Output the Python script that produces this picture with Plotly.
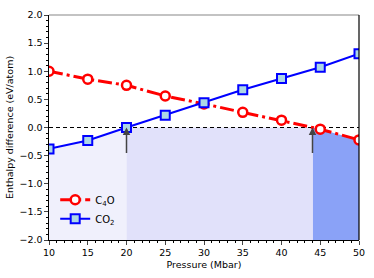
import plotly.graph_objects as go

pressure = [10, 15, 20, 25, 30, 35, 40, 45, 50]
c4o = [1.00, 0.86, 0.75, 0.56, 0.42, 0.27, 0.13, -0.03, -0.22]
co2 = [-0.38, -0.23, 0.00, 0.22, 0.44, 0.67, 0.87, 1.07, 1.31]
x_ticks = [10, 15, 20, 25, 30, 35, 40, 45, 50]
y_ticks = [-2.0, -1.5, -1.0, -0.5, 0.0, 0.5, 1.0, 1.5, 2.0]
arrow_x = [20, 44]

YMIN, YMAX = -2.0, 2.0
# crossing of C4O with zero
xc = 40 + 5 * c4o[6] / (c4o[6] - c4o[7])

fig = go.Figure()

# shaded regions (lower envelope)
fig.add_trace(go.Scatter(
    x=pressure[0:3] + [20, 10], y=co2[0:3] + [YMIN, YMIN],
    fill="toself", fillcolor="#f0f0fc", line=dict(width=0), mode="lines",
    showlegend=False, hoverinfo="skip"))
fig.add_trace(go.Scatter(
    x=[20, xc, xc, 20], y=[0, 0, YMIN, YMIN],
    fill="toself", fillcolor="#e1e1fa", line=dict(width=0), mode="lines",
    showlegend=False, hoverinfo="skip"))
fig.add_trace(go.Scatter(
    x=[xc] + pressure[7:9] + [50, xc], y=[0] + c4o[7:9] + [YMIN, YMIN],
    fill="toself", fillcolor="#8aa2f7", line=dict(width=0), mode="lines",
    showlegend=False, hoverinfo="skip"))

# zero dashed line
fig.add_trace(go.Scatter(
    x=[10, 50], y=[0, 0], mode="lines",
    line=dict(color="black", width=1, dash="4px,3px"),
    showlegend=False, hoverinfo="skip"))

fig.add_trace(go.Scatter(
    x=pressure, y=c4o, mode="lines+markers", name="C<sub>4</sub>O",
    line=dict(color="#ff0000", width=3, dash="14px,4px,3px,4px"),
    marker=dict(symbol="circle", size=9, color="white",
                line=dict(color="#ff0000", width=2.5))))
fig.add_trace(go.Scatter(
    x=pressure, y=co2, mode="lines+markers", name="CO<sub>2</sub>",
    line=dict(color="#0000ff", width=2),
    marker=dict(symbol="square", size=9, color="#add8e6",
                line=dict(color="#0000ff", width=2))))

for ax_ in arrow_x:
    fig.add_annotation(x=ax_, y=0, ax=ax_, ay=-0.48, xref="x", yref="y",
                       axref="x", ayref="y", showarrow=True, arrowhead=2,
                       arrowsize=1, arrowwidth=1.5, arrowcolor="#444444", text="")

# top and right frame
fig.add_shape(type="line", xref="paper", yref="paper", x0=0, x1=1, y0=1, y1=1,
              line=dict(color="#888888", width=1.2))
fig.add_shape(type="line", xref="paper", yref="paper", x0=1, x1=1, y0=0, y1=1,
              line=dict(color="black", width=1.2))

font = dict(family="DejaVu Sans", size=9.5, color="black")
fig.update_layout(
    width=374, height=278,
    margin=dict(l=46, r=12, t=9, b=35),
    paper_bgcolor="white", plot_bgcolor="white",
    font=font,
    showlegend=True,
    legend=dict(x=0.02, y=0.03, xanchor="left", yanchor="bottom",
                bgcolor="rgba(0,0,0,0)", font=dict(family="DejaVu Sans", size=10),
                tracegroupgap=0, itemwidth=30),
    xaxis=dict(range=[10, 50], tickvals=x_ticks, ticks="outside", ticklen=3.5,
               tickwidth=1, showline=True, linecolor="black", linewidth=1.2,
               showgrid=False, zeroline=False,
               minor=dict(dtick=1, ticks="outside", ticklen=2, tickcolor="black"),
               title=dict(text="Pressure (Mbar)", standoff=4, font=font)),
    yaxis=dict(range=[YMIN, YMAX], tickvals=y_ticks, tickformat=".1f",
               ticks="outside", ticklen=3.5, tickwidth=1,
               showline=True, linecolor="black", linewidth=1.2,
               showgrid=False, zeroline=False,
               minor=dict(dtick=0.1, ticks="outside", ticklen=2, tickcolor="black"),
               title=dict(text="Enthalpy difference (eV/atom)", standoff=4, font=font)),
)

fig.write_html("out.html", config={"displayModeBar": False},
               post_script="document.body.style.margin='0';document.body.style.padding='0';")
